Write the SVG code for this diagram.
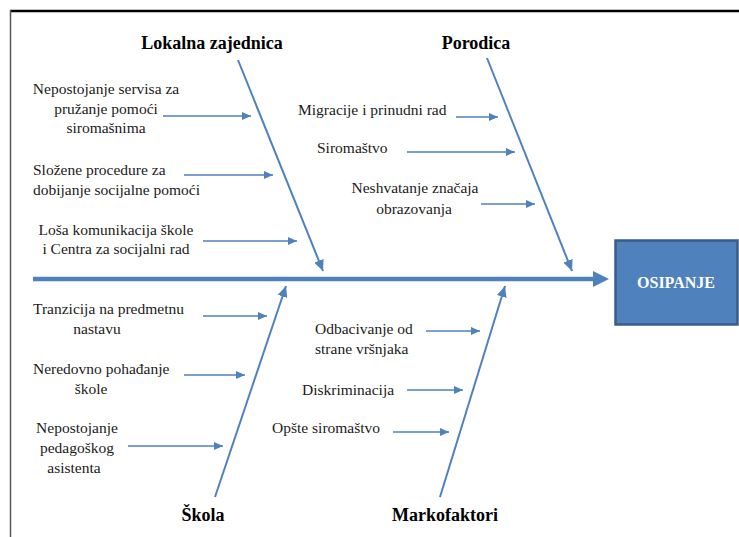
<svg xmlns="http://www.w3.org/2000/svg" width="739" height="537" viewBox="0 0 739 537">
<style>
.t{font-family:"Liberation Serif","Times New Roman",serif;font-size:15.5px;fill:#1a1a1a}
.h{font-family:"Liberation Serif","Times New Roman",serif;font-size:18px;font-weight:bold;fill:#000;text-anchor:middle}
.m{text-anchor:middle}
.sub{stroke:#4F81BD;stroke-width:1.3;fill:none;marker-end:url(#sa)}
.bone{stroke:#4F81BD;stroke-width:2;fill:none;marker-end:url(#ba)}
</style>
<defs>
<marker id="sa" markerUnits="userSpaceOnUse" markerWidth="10" markerHeight="8" refX="9" refY="4" orient="auto">
<path d="M0,0 L9,4 L0,8 z" fill="#4F81BD"/>
</marker>
<marker id="ba" markerUnits="userSpaceOnUse" markerWidth="12" markerHeight="10" refX="11" refY="5" orient="auto">
<path d="M0,0 L11,5 L0,10 z" fill="#4F81BD"/>
</marker>
</defs>
<rect width="739" height="537" fill="#fff"/>
<g id="frame">
<line x1="10" y1="11" x2="739" y2="11" stroke="#000" stroke-width="2.5"/>
<line x1="10.5" y1="10" x2="10.5" y2="537" stroke="#555" stroke-width="1.5"/>
</g>
<g id="connectors">
<line x1="33" y1="279" x2="595" y2="279" stroke="#4F81BD" stroke-width="4.5"/>
<polygon points="593,271 609,279 593,287" fill="#4F81BD"/>
<line class="bone" x1="238" y1="60" x2="323" y2="271"/>
<line class="bone" x1="487" y1="58" x2="572" y2="271"/>
<line class="bone" x1="215" y1="497" x2="286" y2="286"/>
<line class="bone" x1="440" y1="497" x2="505" y2="286"/>
<line class="sub" x1="163" y1="116" x2="251" y2="116"/>
<line class="sub" x1="184" y1="175" x2="273" y2="175"/>
<line class="sub" x1="203" y1="241" x2="297" y2="241"/>
<line class="sub" x1="456" y1="117" x2="498" y2="117"/>
<line class="sub" x1="407" y1="152" x2="515" y2="152"/>
<line class="sub" x1="481" y1="204" x2="535" y2="204"/>
<line class="sub" x1="203" y1="316" x2="267" y2="316"/>
<line class="sub" x1="184" y1="375" x2="245" y2="375"/>
<line class="sub" x1="128" y1="446" x2="223" y2="446"/>
<line class="sub" x1="426" y1="331" x2="480" y2="331"/>
<line class="sub" x1="407" y1="390" x2="463" y2="390"/>
<line class="sub" x1="393" y1="432" x2="449" y2="432"/>
</g>
<g id="effect">
<rect x="615.5" y="240.5" width="122" height="84" fill="#4F81BD" stroke="#385D8A" stroke-width="2.5"/>
<text x="676" y="288" font-family="Liberation Serif, serif" font-size="16" font-weight="bold" fill="#fff" text-anchor="middle">OSIPANJE</text>
</g>
<g id="lokalna-zajednica">
<text class="h" x="212" y="49">Lokalna zajednica</text>
<text class="t m" x="106" y="94">Nepostojanje servisa za</text>
<text class="t m" x="106" y="114">pružanje pomoći</text>
<text class="t m" x="106" y="133">siromašnima</text>
<text class="t" x="33" y="175">Složene procedure za</text>
<text class="t" x="33" y="195">dobijanje socijalne pomoći</text>
<text class="t m" x="116" y="235">Loša komunikacija škole</text>
<text class="t m" x="116" y="254">i Centra za socijalni rad</text>
</g>
<g id="porodica">
<text class="h" x="476" y="49">Porodica</text>
<text class="t" x="298" y="115">Migracije i prinudni rad</text>
<text class="t" x="317" y="153">Siromaštvo</text>
<text class="t m" x="415" y="193">Neshvatanje značaja</text>
<text class="t m" x="414" y="214">obrazovanja</text>
</g>
<g id="skola">
<text class="h" x="203" y="521">Škola</text>
<text class="t" x="33" y="314">Tranzicija na predmetnu</text>
<text class="t m" x="97" y="334">nastavu</text>
<text class="t" x="33" y="374">Neredovno pohađanje</text>
<text class="t m" x="91" y="394">škole</text>
<text class="t m" x="77" y="433">Nepostojanje</text>
<text class="t m" x="77" y="453">pedagoškog</text>
<text class="t m" x="74" y="473">asistenta</text>
</g>
<g id="markofaktori">
<text class="h" x="445" y="521">Markofaktori</text>
<text class="t" x="315" y="334">Odbacivanje od</text>
<text class="t" x="315" y="354">strane vršnjaka</text>
<text class="t" x="302" y="395">Diskriminacija</text>
<text class="t" x="272" y="433">Opšte siromaštvo</text>
</g>
</svg>
